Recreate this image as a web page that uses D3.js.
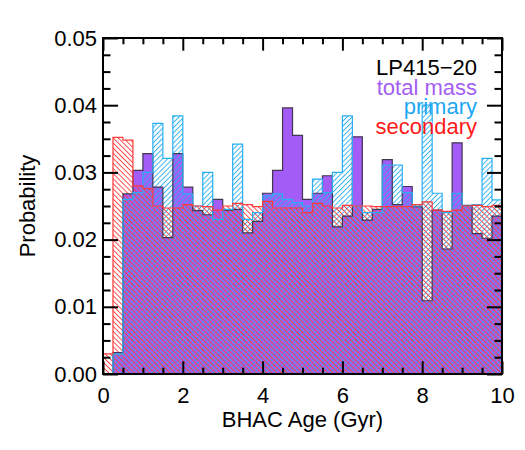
<!DOCTYPE html>
<html>
<head>
<meta charset="utf-8">
<script src="https://cdn.jsdelivr.net/npm/d3@7"></script>
<style>
  body { margin: 0; background: #fff; }
  svg { display: block; }
  text { font-family: "Liberation Sans", Arial, Helvetica, sans-serif; }
</style>
</head>
<body>
<script>
// bins of 0.25 Gyr
const binWidth = 0.25;
const binStart = [0, 0.25, 0.5, 0.75, 1, 1.25, 1.5, 1.75, 2, 2.25, 2.5, 2.75, 3, 3.25, 3.5, 3.75,
  4, 4.25, 4.5, 4.75, 5, 5.25, 5.5, 5.75, 6, 6.25, 6.5, 6.75, 7, 7.25, 7.5, 7.75,
  8, 8.25, 8.5, 8.75, 9, 9.25, 9.5, 9.75];

// probabilities
const totalMass = [0, 0.0032, 0.0268, 0.0303, 0.0328, 0.0278, 0.0203, 0.0328, 0.0278, 0.0243,
  0.0237, 0.0260, 0.0244, 0.0245, 0.0210, 0.0227, 0.0269, 0.0303, 0.0396, 0.0355,
  0.0260, 0.0269, 0.0295, 0.0219, 0.0235, 0.0353, 0.0229, 0.0245, 0.0319, 0.0252,
  0.0279, 0.0249, 0.0109, 0.0244, 0.0186, 0.0344, 0.0251, 0.0209, 0.0202, 0.0235];
const primary = [0, 0.0030, 0.0260, 0.0270, 0.0300, 0.0373, 0.0321, 0.0384, 0.0268, 0.0250,
  0.0300, 0.0230, 0.0245, 0.0342, 0.0230, 0.0240, 0.0265, 0.0268, 0.0260, 0.0255,
  0.0250, 0.0290, 0.0270, 0.0300, 0.0384, 0.0250, 0.0240, 0.0240, 0.0311, 0.0311,
  0.0270, 0.0250, 0.0400, 0.0269, 0.0240, 0.0269, 0.0250, 0.0252, 0.0321, 0.0259];
const secondary = [0.0030, 0.0352, 0.0348, 0.0280, 0.0276, 0.0250, 0.0247, 0.0247, 0.0252, 0.0250,
  0.0249, 0.0244, 0.0250, 0.0254, 0.0252, 0.0249, 0.0257, 0.0247, 0.0247, 0.0247,
  0.0240, 0.0254, 0.0250, 0.0247, 0.0251, 0.0250, 0.0250, 0.0249, 0.0249, 0.0249,
  0.0249, 0.0252, 0.0256, 0.0244, 0.0242, 0.0244, 0.0250, 0.0251, 0.0249, 0.0251];

const xMajor = [0, 2, 4, 6, 8, 10];
const xMinor = [0.5, 1, 1.5, 2.5, 3, 3.5, 4.5, 5, 5.5, 6.5, 7, 7.5, 8.5, 9, 9.5];
const yMajor = [0, 0.01, 0.02, 0.03, 0.04, 0.05];
const yMinor = [0.0025, 0.005, 0.0075, 0.0125, 0.015, 0.0175, 0.0225, 0.025, 0.0275,
  0.0325, 0.035, 0.0375, 0.0425, 0.045, 0.0475];
const legendLabels = ['LP415\u221220', 'total mass', 'primary', 'secondary'];
const legendColors = ['#000', '#a35ef2', '#1ea7f2', '#ff1a1a'];

const width = 525, height = 450;
const pLeft = 103, pRight = 502, pTop = 38, pBottom = 374;

const svg = d3.select('body').append('svg')
  .attr('width', width)
  .attr('height', height);

const x = d3.scaleLinear().domain([0, 10]).range([pLeft, pRight]);
const y = d3.scaleLinear().domain([0, 0.05]).range([pBottom, pTop]);

// hatch patterns
const defs = svg.append('defs');
const hatch = (id, color, angle) => {
  defs.append('pattern')
    .attr('id', id)
    .attr('patternUnits', 'userSpaceOnUse')
    .attr('width', 3.6)
    .attr('height', 3.6)
    .attr('patternTransform', `rotate(${angle})`)
    .append('line')
    .attr('x1', 0.5).attr('y1', 0)
    .attr('x2', 0.5).attr('y2', 3.6)
    .attr('stroke', color)
    .attr('stroke-width', 0.9);
};
hatch('hatchPrimary', '#2aaef2', 45);
hatch('hatchSecondary', '#ff3a3a', -45);

defs.append('clipPath').attr('id', 'plotClip')
  .append('rect')
  .attr('x', pLeft).attr('y', pTop)
  .attr('width', pRight - pLeft).attr('height', pBottom - pTop);

const toPoints = vals => binStart.map((b, i) => [b, vals[i]])
  .concat([[binStart[binStart.length - 1] + binWidth, vals[vals.length - 1]]]);

const area = d3.area()
  .x(d => x(d[0]))
  .y0(y(0))
  .y1(d => y(d[1]))
  .curve(d3.curveStepAfter);

const line = d3.line()
  .x(d => x(d[0]))
  .y(d => y(d[1]))
  .curve(d3.curveStepAfter);

const plot = svg.append('g').attr('clip-path', 'url(#plotClip)');

// total mass: filled
plot.append('path')
  .attr('d', area(toPoints(totalMass)))
  .attr('fill', '#a35cf5');

// primary and secondary: hatched
plot.append('path')
  .attr('d', area(toPoints(primary)))
  .attr('fill', 'url(#hatchPrimary)');
plot.append('path')
  .attr('d', area(toPoints(secondary)))
  .attr('fill', 'url(#hatchSecondary)');

// outlines
plot.append('path')
  .attr('d', line(toPoints(totalMass)))
  .attr('fill', 'none')
  .attr('stroke', '#433652')
  .attr('stroke-width', 1.2);
plot.append('path')
  .attr('d', line(toPoints(primary)))
  .attr('fill', 'none')
  .attr('stroke', '#2aaef2')
  .attr('stroke-width', 1.2);
plot.append('path')
  .attr('d', line(toPoints(secondary)))
  .attr('fill', 'none')
  .attr('stroke', '#ff3a3a')
  .attr('stroke-width', 1.2);

// axes
const styleAxis = g => {
  g.select('.domain').remove();
  g.selectAll('.tick line').attr('stroke', '#000').attr('stroke-width', 2);
  g.selectAll('.tick text').attr('fill', '#000').attr('font-size', 22);
};

svg.append('g')
  .attr('transform', `translate(0,${pBottom})`)
  .call(d3.axisBottom(x).tickValues(xMajor).tickSize(-12.7).tickSizeOuter(0).tickPadding(13).tickFormat(d3.format('d')))
  .call(styleAxis);
svg.append('g')
  .attr('transform', `translate(0,${pBottom})`)
  .call(d3.axisBottom(x).tickValues(xMinor).tickSize(-6.3).tickSizeOuter(0).tickFormat(''))
  .call(styleAxis);
svg.append('g')
  .attr('transform', `translate(0,${pTop})`)
  .call(d3.axisTop(x).tickValues(xMajor).tickSize(-12.7).tickSizeOuter(0).tickFormat(''))
  .call(styleAxis);
svg.append('g')
  .attr('transform', `translate(0,${pTop})`)
  .call(d3.axisTop(x).tickValues(xMinor).tickSize(-6.3).tickSizeOuter(0).tickFormat(''))
  .call(styleAxis);

svg.append('g')
  .attr('transform', `translate(${pLeft},0)`)
  .call(d3.axisLeft(y).tickValues(yMajor).tickSize(-15).tickSizeOuter(0).tickPadding(6).tickFormat(d3.format('.2f')))
  .call(styleAxis);
svg.append('g')
  .attr('transform', `translate(${pLeft},0)`)
  .call(d3.axisLeft(y).tickValues(yMinor).tickSize(-7.5).tickSizeOuter(0).tickFormat(''))
  .call(styleAxis);
svg.append('g')
  .attr('transform', `translate(${pRight},0)`)
  .call(d3.axisRight(y).tickValues(yMajor).tickSize(-15).tickSizeOuter(0).tickFormat(''))
  .call(styleAxis);
svg.append('g')
  .attr('transform', `translate(${pRight},0)`)
  .call(d3.axisRight(y).tickValues(yMinor).tickSize(-7.5).tickSizeOuter(0).tickFormat(''))
  .call(styleAxis);

// frame
svg.append('rect')
  .attr('x', pLeft).attr('y', pTop)
  .attr('width', pRight - pLeft).attr('height', pBottom - pTop)
  .attr('fill', 'none')
  .attr('stroke', '#000')
  .attr('stroke-width', 2);

// axis titles
svg.append('text')
  .attr('x', (pLeft + pRight) / 2)
  .attr('y', 427)
  .attr('text-anchor', 'middle')
  .attr('font-size', 22)
  .text('BHAC Age (Gyr)');
svg.append('text')
  .attr('transform', `translate(35,${(pTop + pBottom) / 2}) rotate(-90)`)
  .attr('text-anchor', 'middle')
  .attr('font-size', 22)
  .text('Probability');

// legend
svg.append('g').selectAll('text')
  .data(legendLabels)
  .join('text')
  .attr('x', 477)
  .attr('y', (d, i) => 75 + i * 19.5)
  .attr('text-anchor', 'end')
  .attr('font-size', 22)
  .attr('fill', (d, i) => legendColors[i])
  .text(d => d);
</script>
</body>
</html>
